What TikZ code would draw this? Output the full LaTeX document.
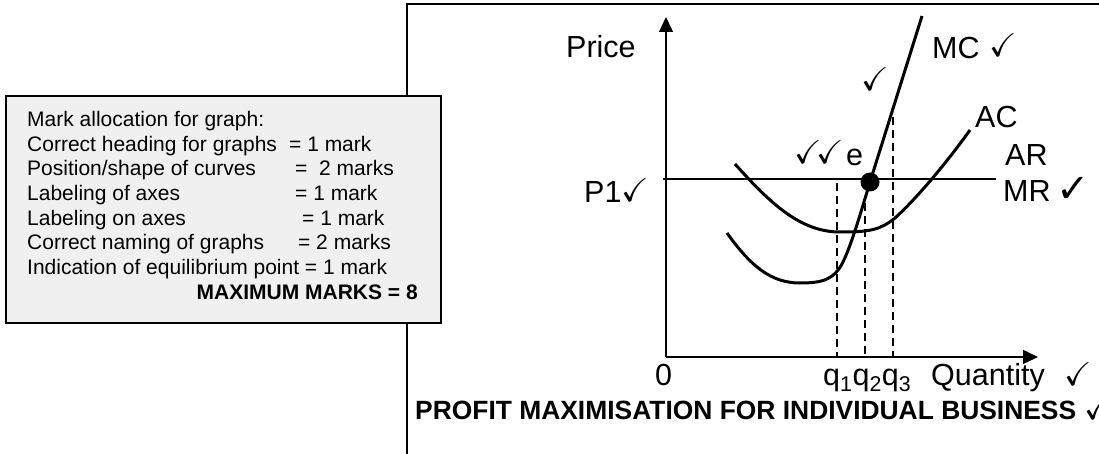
\documentclass[tikz,border=0pt]{standalone}
\usepackage{fontspec}
\setmainfont{Liberation Sans}
\usepackage{amssymb}
\newfontfamily\dejavu{DejaVu Sans}
\usetikzlibrary{arrows.meta}
\begin{document}
\begin{tikzpicture}[x=1pt,y=-1pt,
  boxtxt/.style={anchor=base west,inner sep=0pt,font=\fontsize{21}{24}\selectfont},
  lbl/.style={anchor=base west,inner sep=0pt,font=\fontsize{30.5}{34}\selectfont},
  tick/.style={inner sep=0pt,font=\fontsize{33}{33}\selectfont},
  curve/.style={line width=3pt},
  axis/.style={line width=1.4pt,-{Triangle[length=15pt,width=14pt]}},
  guide/.style={line width=1.3pt,dash pattern=on 8pt off 5pt}]
\useasboundingbox (0,0) rectangle (1099,454);
% outer frame
\draw[line width=2pt] (407,456) -- (407,4) -- (1105,4);
% mark allocation box
\draw[line width=2pt,fill={rgb,255:red,240;green,240;blue,240}] (6,96) rectangle (441,323);
\node[boxtxt] (l1) at (27,126.7) {Mark allocation for graph:};
\node[boxtxt] (l2) at (27,151.3) {\makebox[262pt][l]{Correct heading for graphs}= 1 mark};
\node[boxtxt] (l3) at (27,176) {\makebox[268pt][l]{Position/shape of curves}=\ \ 2 marks};
\node[boxtxt] (l4) at (27,200.6) {\makebox[268pt][l]{Labeling of axes}= 1 mark};
\node[boxtxt] (l5) at (27,225.2) {\makebox[275pt][l]{Labeling on axes}= 1 mark};
\node[boxtxt] (l6) at (27,249.8) {\makebox[271pt][l]{Correct naming of graphs}= 2 marks};
\node[boxtxt] (l7) at (27,274.4) {Indication of equilibrium point = 1 mark};
\node[boxtxt,anchor=base east] (l8) at (418,299) {\bfseries MAXIMUM MARKS = 8};
% axes
\coordinate (O) at (666,357);
\coordinate (Ytop) at (666,17);
\coordinate (Xend) at (1038,357);
\draw[axis] (O) -- (Ytop);
\draw[axis] (O) -- (Xend);
% MR line
\coordinate (MRa) at (663,179);
\coordinate (MRb) at (996,179);
\draw[line width=1.1pt] (MRa) -- (MRb);
% dashed guides
\coordinate (q1t) at (837,183); \coordinate (q1b) at (837,357);
\coordinate (q2t) at (865,203); \coordinate (q2b) at (865,357);
\coordinate (q3t) at (893,117); \coordinate (q3b) at (893,357);
\draw[guide] (q1t) -- (q1b);
\draw[guide] (q2t) -- (q2b);
\draw[guide] (q3t) -- (q3b);
% AC curve
\draw[curve] (735,164) .. controls (770,203) and (800,232) .. (840,232)
  .. controls (870,232) and (880,230) .. (895,218)
  .. controls (915,200) and (945,165) .. (970,130);
% MC curve
\draw[curve] (727,233) .. controls (750,265) and (770,283) .. (800,283)
  .. controls (822,283) and (834,280) .. (843,262)
  .. controls (852,243) and (860,215) .. (870,182) -- (922,16);
% equilibrium point
\node[circle,fill=black,minimum size=19pt,inner sep=0pt] (e) at (870,182) {};
% labels
\node[lbl] (price) at (566,58) {Price};
\node[lbl] (p1) at (584,203) {P1};
\node[tick] (p1c) at (635,190) {$\checkmark$};
\node[lbl] (mc) at (932,59) {MC};
\node[tick] (mcc) at (1003,45) {$\checkmark$};
\node[tick] (slope) at (875,79) {$\checkmark$};
\node[lbl] (ac) at (975,128) {AC};
\node[lbl] (ar) at (1005,166) {AR};
\node[lbl] (mr) at (1003,202) {MR};
\node[tick,font=\dejavu\bfseries\fontsize{40}{40}\selectfont] (mrc) at (1073,190) {✓};
\node[tick] (ec1) at (808,152) {$\checkmark$};
\node[tick] (ec2) at (830,152) {$\checkmark$};
\node[lbl] (elab) at (846,166) {e};
\node[lbl] (zero) at (655,385) {0};
\node[lbl] (qs) at (823,385) {q\textsubscript{1}q\textsubscript{2}q\textsubscript{3}};
\node[lbl] (qty) at (931,385) {Quantity};
\node[tick] (qtyc) at (1078,374) {$\checkmark$};
\node[anchor=base west,inner sep=0pt,font=\bfseries\fontsize{26.4}{30}\selectfont] (title) at (415,419) {PROFIT MAXIMISATION FOR INDIVIDUAL BUSINESS \hspace{1pt}{\fontsize{33}{33}\selectfont$\checkmark$}};
\end{tikzpicture}
\end{document}
